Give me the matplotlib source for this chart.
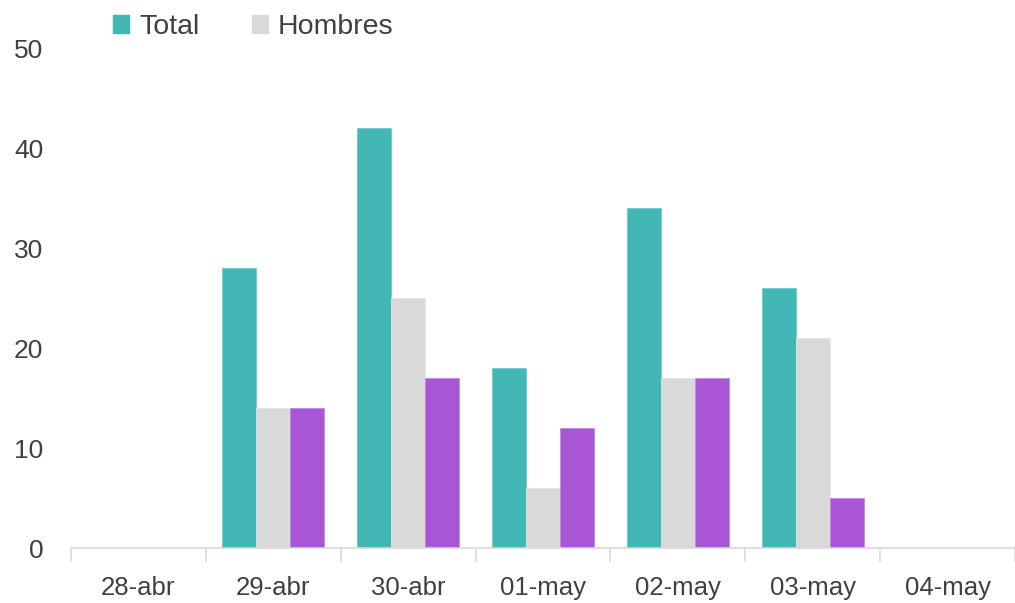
import matplotlib
matplotlib.use("Agg")
import matplotlib.pyplot as plt
import numpy as np
from matplotlib.patches import Patch

categories = ["28-abr", "29-abr", "30-abr", "01-may", "02-may", "03-may", "04-may"]
total = [0, 28, 42, 18, 34, 26, 0]
hombres = [0, 14, 25, 6, 17, 21, 0]
mujeres = [0, 14, 17, 12, 17, 5, 0]
yticks = [0, 10, 20, 30, 40, 50]

c_total = "#43B6B6"
c_hom = "#D9D9D9"
c_muj = "#A855D6"
txt = "#404040"

plt.rcParams['font.family'] = ['Liberation Sans', 'DejaVu Sans']

W, H = 1015, 603
fig = plt.figure(figsize=(W / 100, H / 100), dpi=100)
ax = fig.add_axes([71 / W, 55 / H, (W - 71) / W, 500 / H])

x = np.arange(len(categories))
bw = 0.253
ax.bar(x - bw, total, bw, color=c_total, edgecolor="#6fcaca", linewidth=0.6)
ax.bar(x, hombres, bw, color=c_hom, edgecolor="#e4e4e4", linewidth=0.6)
ax.bar(x + bw, mujeres, bw, color=c_muj, edgecolor="#c08ae0", linewidth=0.6)

ax.set_ylim(0, 50)
ax.set_xlim(-0.5, -0.5 + 6.936)
ax.set_yticks(yticks)
ax.set_yticklabels([str(v) for v in yticks])
ax.set_xticks(x)
ax.set_xticklabels(categories)
ax.set_xticks(np.arange(len(categories) + 1) - 0.5, minor=True)

for s in ["top", "right", "left"]:
    ax.spines[s].set_visible(False)
ax.spines["bottom"].set_color("#d9d9d9")
ax.spines["bottom"].set_linewidth(1.2)

ax.tick_params(axis="y", length=0, pad=20, labelsize=19, labelcolor=txt)
ax.tick_params(axis="x", which="major", length=0, pad=20.5, labelsize=18.5, labelcolor=txt)
ax.tick_params(axis="x", which="minor", length=10, width=1.2, color="#d9d9d9")

handles = [Patch(color=c_total, label="Total"), Patch(color=c_hom, label="Hombres")]
fig.legend(handles=handles, loc="center left", bbox_to_anchor=(113 / W, 1 - 27 / H),
           ncol=2, frameon=False, fontsize=20.5, handlelength=0.56, handleheight=0.56,
           handletextpad=0.35, columnspacing=1.85, borderpad=0, borderaxespad=0,
           labelcolor=txt)

fig.savefig("out.png", dpi=100)
